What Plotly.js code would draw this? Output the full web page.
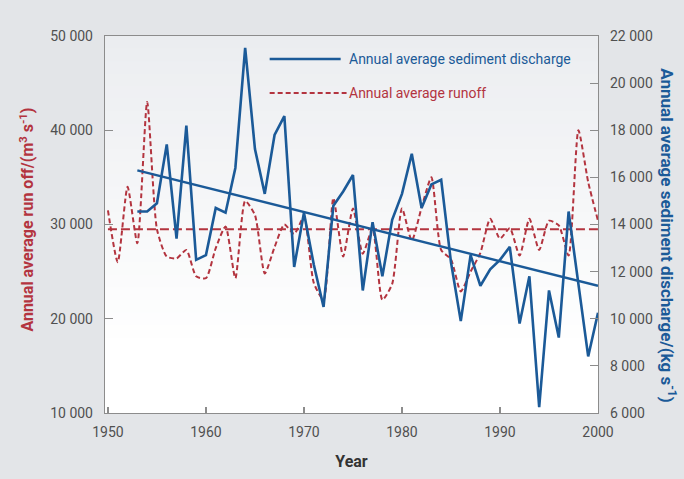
<!DOCTYPE html>
<html>
<head>
<meta charset="utf-8">
<script src="https://cdn.plot.ly/plotly-3.0.1.min.js"></script>
<style>
  html, body { margin: 0; padding: 0; background: #e3e5e8; }
  #chart { width: 684px; height: 479px; }
</style>
</head>
<body>
<div id="chart"></div>
<script>
// Annual average runoff, m3/s (1950-2000)
const runoffYears = [1950, 1951, 1952, 1953, 1954, 1955, 1956, 1957, 1958, 1959,
  1960, 1961, 1962, 1963, 1964, 1965, 1966, 1967, 1968, 1969,
  1970, 1971, 1972, 1973, 1974, 1975, 1976, 1977, 1978, 1979,
  1980, 1981, 1982, 1983, 1984, 1985, 1986, 1987, 1988, 1989,
  1990, 1991, 1992, 1993, 1994, 1995, 1996, 1997, 1998, 1999, 2000];
const runoff = [31500, 26000, 34000, 28000, 43000, 29500, 26600, 26400, 27300, 24500,
  24300, 27500, 29800, 24300, 32500, 31000, 24800, 27600, 30000, 29000,
  30800, 23800, 22000, 32800, 26600, 31700, 26900, 29600, 22000, 23700,
  31700, 28300, 31800, 35000, 27300, 26300, 22900, 25000, 27000, 30600,
  28500, 29600, 26700, 30600, 27300, 30400, 29900, 26700, 40000, 34500, 30400];

// Long-term mean runoff line
const runoffMeanYears = [1950, 2000];
const runoffMean = [29500, 29500];

// Annual average sediment discharge, kg/s (1953-2000)
const sedimentYears = [1953, 1954, 1955, 1956, 1957, 1958, 1959,
  1960, 1961, 1962, 1963, 1964, 1965, 1966, 1967, 1968, 1969,
  1970, 1971, 1972, 1973, 1974, 1975, 1976, 1977, 1978, 1979,
  1980, 1981, 1982, 1983, 1984, 1985, 1986, 1987, 1988, 1989,
  1990, 1991, 1992, 1993, 1994, 1995, 1996, 1997, 1998, 1999, 2000];
const sediment = [14550, 14550, 14900, 17400, 13400, 18200, 12500,
  12700, 14700, 14500, 16400, 21500, 17200, 15300, 17800, 18600, 12200,
  14500, 12300, 10500, 14800, 15400, 16100, 11200, 14100, 11800, 14200,
  15300, 17000, 14700, 15700, 15900, 12400, 9900, 12700, 11400, 12100,
  12500, 13050, 9800, 11800, 6250, 11200, 9200, 14550, 11500, 8400, 10250];

// Linear trend of sediment discharge
const sedimentTrendYears = [1953, 2000];
const sedimentTrend = [16300, 11400];

const BLUE = '#1b5a98';
const RED = '#b3343f';
const FONT = 'Roboto, "Liberation Sans", sans-serif';

const traces = [
  {
    x: runoffMeanYears, y: runoffMean, yaxis: 'y', mode: 'lines',
    line: { color: RED, width: 2, dash: '9px,4px' }, hoverinfo: 'skip'
  },
  {
    x: runoffYears, y: runoff, yaxis: 'y', mode: 'lines', name: 'Annual average runoff',
    line: { color: RED, width: 2, dash: '5px,3px', shape: 'spline', smoothing: 0.6 }
  },
  {
    x: sedimentYears, y: sediment, yaxis: 'y2', mode: 'lines', name: 'Annual average sediment discharge',
    line: { color: BLUE, width: 2.6 }
  },
  {
    x: sedimentTrendYears, y: sedimentTrend, yaxis: 'y2', mode: 'lines',
    line: { color: BLUE, width: 2.4 }, hoverinfo: 'skip'
  }
];

// Soft vertical shading of the plot area: light grey at the top fading to white
const shapes = [];
const bands = 30;
for (let i = 0; i < bands; i++) {
  const y0 = i / bands;
  const y1 = (i + 1) / bands + 0.002;
  const mid = (i + 0.5) / bands;
  const t = Math.max(0, (mid - 0.18) / 0.82);
  const r = Math.round(255 - t * 20);
  const g = Math.round(255 - t * 18);
  const b = Math.round(255 - t * 15);
  shapes.push({
    type: 'rect', xref: 'paper', yref: 'paper', x0: 0, x1: 1, y0: y0, y1: Math.min(1, y1),
    fillcolor: `rgb(${r},${g},${b})`, line: { width: 0 }, layer: 'below'
  });
}

// Legend keys
shapes.push({
  type: 'line', xref: 'paper', yref: 'paper', x0: 0.334, x1: 0.478, y0: 0.939, y1: 0.939,
  line: { color: BLUE, width: 2.6 }
});
shapes.push({
  type: 'line', xref: 'paper', yref: 'paper', x0: 0.334, x1: 0.490, y0: 0.849, y1: 0.849,
  line: { color: RED, width: 2, dash: '5px,3px' }
});

const annotations = [
  {
    xref: 'paper', yref: 'paper', x: 0.491, y: 0.939, xanchor: 'left', yanchor: 'middle',
    text: 'Annual average sediment discharge', showarrow: false,
    font: { family: FONT, size: 14, color: BLUE }
  },
  {
    xref: 'paper', yref: 'paper', x: 0.491, y: 0.849, xanchor: 'left', yanchor: 'middle',
    text: 'Annual average runoff', showarrow: false,
    font: { family: FONT, size: 14, color: RED }
  },
  {
    xref: 'paper', yref: 'paper', x: -0.157, y: 0.512, xanchor: 'center', yanchor: 'middle',
    text: 'Annual average run off/(m<sup>3</sup> s<sup>-1</sup>)', textangle: -90, showarrow: false,
    font: { family: FONT, size: 16, color: RED, weight: 'bold' }
  },
  {
    xref: 'paper', yref: 'paper', x: 1.143, y: 0.47, xanchor: 'center', yanchor: 'middle',
    text: 'Annual average sediment discharge/(kg s<sup>-1</sup>)', textangle: 90, showarrow: false,
    font: { family: FONT, size: 17, color: BLUE, weight: 'bold' }
  }
];

const axisCommon = {
  showgrid: false, zeroline: false, showline: true, linecolor: '#8c8c8c', linewidth: 1.2,
  ticks: 'inside', ticklen: 8, tickcolor: '#8c8c8c', tickwidth: 1.2,
  tickfont: { family: FONT, size: 14, color: '#505050' }
};

const layout = {
  width: 684, height: 479,
  margin: { l: 105, r: 86, t: 36, b: 66 },
  paper_bgcolor: '#e3e5e8',
  plot_bgcolor: '#ffffff',
  separators: '. ',
  showlegend: false,
  xaxis: Object.assign({}, axisCommon, {
    range: [1949.7, 2000], tickvals: [1950, 1960, 1970, 1980, 1990, 2000], ticklen: 6, mirror: true,
    ticklabelstandoff: 6,
    title: { text: 'Year', font: { family: FONT, size: 16, color: '#333', weight: 'bold' }, standoff: 16 }
  }),
  yaxis: Object.assign({}, axisCommon, {
    range: [10000, 50000], dtick: 10000, tick0: 10000, separatethousands: true,
    exponentformat: 'none', tickformat: ',d', ticklabelstandoff: 8
  }),
  yaxis2: Object.assign({}, axisCommon, {
    overlaying: 'y', side: 'right', range: [6000, 22000], dtick: 2000, tick0: 6000,
    separatethousands: true, exponentformat: 'none', tickformat: ',d', ticklabelstandoff: 8
  }),
  shapes: shapes,
  annotations: annotations
};

Plotly.newPlot('chart', traces, layout, { staticPlot: true, displayModeBar: false });
</script>
</body>
</html>
